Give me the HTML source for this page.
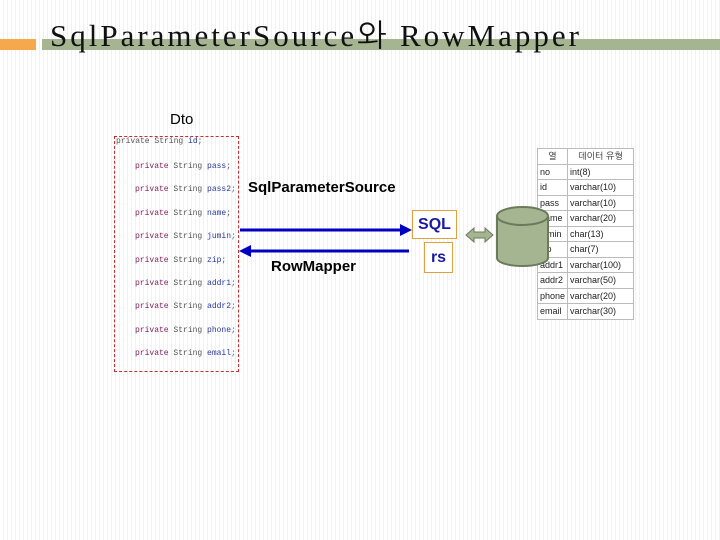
<!DOCTYPE html>
<html><head><meta charset="utf-8"><style>
body{margin:0;width:720px;height:540px;overflow:hidden;background:#fff repeating-linear-gradient(90deg,#fff 0,#fff 3px,#f1f1f1 3px,#f1f1f1 4px);position:relative;font-family:"Liberation Sans","NanumGothic",sans-serif}
.a{position:absolute}
.code{font-family:"Liberation Mono",monospace;font-size:8px;color:#555;white-space:nowrap}
.code b{font-weight:normal;color:#7a1f5c}
.code i{font-style:normal;color:#2a3a9a}
table{border-collapse:collapse;font-size:9px;font-family:"Liberation Sans","NanumGothic",sans-serif;background:#fff}
td{border:1px solid #bbb;height:14.5px;padding:0 2px;color:#222}
</style></head><body>
<div class="a" style="left:0;top:39px;width:36px;height:11px;background:#f6a94c"></div>
<div class="a" style="left:42px;top:39px;width:678px;height:11px;background:#a5b592"></div>
<div class="a" style="left:50px;top:16px;font-family:'Liberation Serif','NanumGothic',serif;font-size:31px;letter-spacing:3px;color:#111;white-space:nowrap">SqlParameterSource와 RowMapper</div>
<div class="a" style="left:170px;top:111px;font-size:15px">Dto</div>
<div class="a" style="left:114px;top:136px;width:123px;height:234px;border:1px dashed #c03030"></div>
<div class="a code" style="left:116px;top:137px">private String <i>id</i>;</div>
<div class="a code" style="left:135px;top:155px;line-height:23.4px">
<b>private</b> String <i>pass</i>;<br><b>private</b> String <i>pass2</i>;<br><b>private</b> String <i>name</i>;<br><b>private</b> String <i>jumin</i>;<br><b>private</b> String <i>zip</i>;<br><b>private</b> String <i>addr1</i>;<br><b>private</b> String <i>addr2</i>;<br><b>private</b> String <i>phone</i>;<br><b>private</b> String <i>email</i>;</div>
<div class="a" style="left:248px;top:179px;font-size:15px;font-weight:bold">SqlParameterSource</div>
<div class="a" style="left:271px;top:258px;font-size:15px;font-weight:bold">RowMapper</div>
<div class="a" style="left:412px;top:210px;width:43px;height:27px;border:1px solid #e0a040;background:#fff;color:#1a1aa0;font-weight:bold;font-size:16px;text-align:center;line-height:27px">SQL</div>
<div class="a" style="left:424px;top:242px;width:27px;height:29px;border:1px solid #e0a040;background:#fff;color:#1a1aa0;font-weight:bold;font-size:16px;text-align:center;line-height:29px">rs</div>
<svg class="a" style="left:0;top:0" width="720" height="540">
<line x1="240" y1="230" x2="402" y2="230" stroke="#0000c0" stroke-width="3"/>
<polygon points="400,224 412,230 400,236" fill="#0000c0"/>
<line x1="250" y1="251" x2="409" y2="251" stroke="#0000c0" stroke-width="3"/>
<polygon points="251,245 239,251 251,257" fill="#0000c0"/>
<polygon points="466,235 474,228 474,232 485,232 485,228 493,235 485,242 485,238 474,238 474,242" fill="#a5b592" stroke="#6c7a5c" stroke-width="1"/>
</svg>
<table class="a" style="left:537px;top:148px;width:97px">
<tr><td style="text-align:center;width:24px">열</td><td style="text-align:center">데이터 유형</td></tr>
<tr><td>no</td><td>int(8)</td></tr><tr><td>id</td><td>varchar(10)</td></tr><tr><td>pass</td><td>varchar(10)</td></tr><tr><td>name</td><td>varchar(20)</td></tr><tr><td>jumin</td><td>char(13)</td></tr><tr><td>zip</td><td>char(7)</td></tr><tr><td>addr1</td><td>varchar(100)</td></tr><tr><td>addr2</td><td>varchar(50)</td></tr><tr><td>phone</td><td>varchar(20)</td></tr><tr><td>email</td><td>varchar(30)</td></tr>
</table>
<svg class="a" style="left:496px;top:205px" width="54" height="64"><path d="M1 11 L1 53 A25.5 8 0 0 0 52 53 L52 11" fill="#a5b592" stroke="#6c7a5c" stroke-width="2"/><ellipse cx="26.5" cy="11" rx="25.5" ry="9" fill="#a5b592" stroke="#6c7a5c" stroke-width="2"/></svg>
</body></html>
